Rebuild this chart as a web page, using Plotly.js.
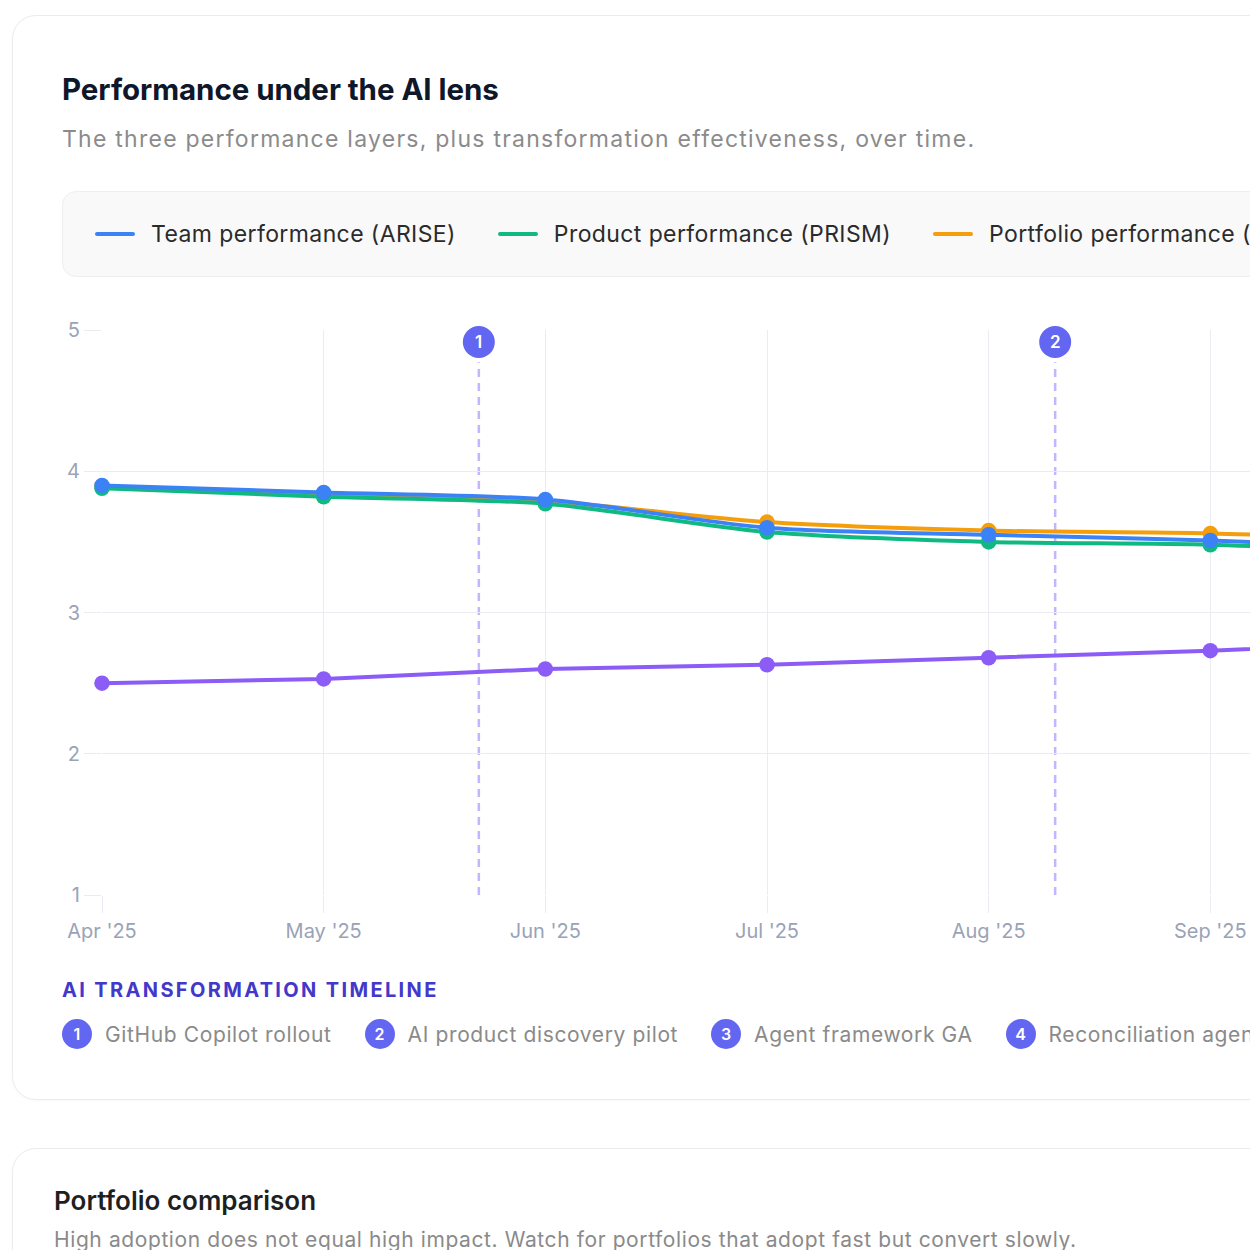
<!DOCTYPE html>
<html>
<head>
<meta charset="utf-8">
<script src="https://cdn.plot.ly/plotly-3.0.1.min.js"></script>
<style>
  html, body { margin:0; padding:0; background:#ffffff; overflow:hidden; width:1250px; height:1250px; }
  body { font-family: Inter, "Noto Sans", sans-serif; position:relative; }
  .card { position:absolute; left:12px; width:1520px; border:1px solid #ececef; border-radius:24px; background:#fff; box-shadow:0 1px 3px rgba(0,0,0,0.03); }
  .abs { position:absolute; white-space:nowrap; }
  #title { left:62px; top:72px; font-size:29.5px; font-weight:700; color:#0f172a; letter-spacing:-0.05px; line-height:34px; }
  #subtitle { left:62px; top:125px; font-size:23px; color:#8b8b8b; letter-spacing:1.25px; line-height:28px; }
  #legend { left:62px; top:191px; width:1460px; height:86px; background:#f9f9fa; border:1px solid #efeff1; border-radius:14px; display:flex; align-items:center; padding-left:32px; box-sizing:border-box; }
  .li { display:flex; align-items:center; margin-right:42px; font-size:23px; color:#2b2b2b; letter-spacing:0.4px; }
  .sw { width:40px; height:4px; border-radius:2px; margin-right:16px; }
  #plot { left:0px; top:290px; width:1480px; height:680px; }
  #tlTitle { left:62px; top:978px; font-size:20px; font-weight:700; color:#4338ca; letter-spacing:2.35px; line-height:24px; }
  #tl { left:62px; top:1019px; display:flex; align-items:center; }
  .ti { display:flex; align-items:center; margin-right:33px; }
  .badge { width:30px; height:30px; border-radius:15px; background:#6366f1; color:#fff; font-size:16px; font-weight:600; display:flex; align-items:center; justify-content:center; }
  .tt { margin-left:13px; font-size:21px; color:#8a8a8a; letter-spacing:0.62px; }
  #t2 { left:54px; top:1186px; font-size:26px; font-weight:600; color:#1f1f1f; line-height:30px; }
  #s2 { left:54px; top:1226px; font-size:21px; color:#8a8a8a; letter-spacing:0.6px; line-height:28px; }
</style>
</head>
<body>
<div class="card" style="top:15px;height:1083px;"></div>
<div class="card" style="top:1148px;height:400px;"></div>
<div id="title" class="abs">Performance under the AI lens</div>
<div id="subtitle" class="abs">The three performance layers, plus transformation effectiveness, over time.</div>
<div id="legend" class="abs"></div>
<div id="plot" class="abs"></div>
<div id="tlTitle" class="abs">AI TRANSFORMATION TIMELINE</div>
<div id="tl" class="abs"></div>
<div id="t2" class="abs">Portfolio comparison</div>
<div id="s2" class="abs">High adoption does not equal high impact. Watch for portfolios that adopt fast but convert slowly.</div>
<script>
// ---- data ----
const months = ["Apr '25", "May '25", "Jun '25", "Jul '25", "Aug '25", "Sep '25", "Oct '25"];
const teamPerformance      = [3.90, 3.85, 3.80, 3.60, 3.55, 3.51, 3.45];
const productPerformance   = [3.88, 3.82, 3.77, 3.57, 3.50, 3.48, 3.41];
const portfolioPerformance = [3.89, 3.84, 3.79, 3.64, 3.58, 3.56, 3.50];
const transformationEff    = [2.50, 2.53, 2.60, 2.63, 2.68, 2.73, 2.79];
const seriesNames  = ["Team performance (ARISE)", "Product performance (PRISM)", "Portfolio performance (Portfolio)", "Transformation effectiveness"];
const seriesColors = ["#3b82f6", "#10b981", "#f59e0b", "#8b5cf6"];
const eventLabels = ["GitHub Copilot rollout", "AI product discovery pilot", "Agent framework GA", "Reconciliation agent"];
const eventPos    = [1.70, 4.30, null, null]; // position in month units (only first two visible)

// ---- legend ----
const lg = document.getElementById('legend');
seriesNames.forEach((n, i) => {
  const d = document.createElement('div'); d.className = 'li';
  d.innerHTML = '<span class="sw" style="background:' + seriesColors[i] + '"></span><span>' + n + '</span>';
  lg.appendChild(d);
});
// ---- timeline ----
const tl = document.getElementById('tl');
eventLabels.forEach((n, i) => {
  const d = document.createElement('div'); d.className = 'ti';
  d.innerHTML = '<span class="badge">' + (i + 1) + '</span><span class="tt">' + n + '</span>';
  tl.appendChild(d);
});

// ---- chart ----
const xIdx = months.map((m, i) => i);
function tr(y, ci, shape) {
  return { x: xIdx, y: y, type: 'scatter', mode: 'lines+markers', cliponaxis: false,
    line: { color: seriesColors[ci], width: 4, shape: shape, smoothing: 0.8 },
    marker: { color: seriesColors[ci], size: 15.5 }, hoverinfo: 'skip', showlegend: false };
}
const data = [
  tr(transformationEff, 3, 'linear'),
  tr(portfolioPerformance, 2, 'spline'),
  tr(productPerformance, 1, 'spline'),
  tr(teamPerformance, 0, 'spline')
];
const gridC = '#eaecf1';
const shapes = [], annotations = [];
eventPos.forEach((p, i) => {
  if (p === null) return;
  shapes.push({ type: 'line', xref: 'x', yref: 'paper', x0: p, x1: p, y0: 0, y1: 0.943, layer: 'below',
    line: { color: '#c4b5fd', width: 2.5, dash: '8px,6px' } });
  shapes.push({ type: 'circle', xref: 'x', yref: 'paper', xsizemode: 'pixel', ysizemode: 'pixel',
    xanchor: p, yanchor: 1, x0: -16, x1: 16, y0: -28, y1: 4, fillcolor: '#6366f1', line: { width: 0 }, layer: 'above' });
  annotations.push({ x: p, y: 1, xref: 'x', yref: 'paper', xanchor: 'center', yanchor: 'middle', yshift: -12,
    showarrow: false, text: String(i + 1),
    font: { color: '#ffffff', size: 17, family: 'Inter', weight: 600 } });
});
const layout = {
  width: 1480, height: 680,
  margin: { l: 102, r: 48, t: 40, b: 75 },
  paper_bgcolor: 'rgba(0,0,0,0)', plot_bgcolor: 'rgba(0,0,0,0)',
  font: { family: 'Inter, sans-serif', color: '#9aa3b6', size: 20 },
  xaxis: { range: [0, 6], tickvals: xIdx, ticktext: months, showgrid: true, gridcolor: gridC, gridwidth: 1,
    zeroline: false, showline: false, ticks: 'outside', ticklen: 17, tickcolor: gridC, tickwidth: 1,
    tickfont: { size: 20, color: '#9aa3b6' }, ticklabelstandoff: 1 },
  yaxis: { range: [1, 5], tickvals: [1, 2, 3, 4, 5], showgrid: true, gridcolor: gridC, gridwidth: 1,
    zeroline: false, showline: false, ticks: 'outside', ticklen: 17, tickcolor: gridC, tickwidth: 1,
    tickfont: { size: 20, color: '#9aa3b6' } },
  shapes: shapes, annotations: annotations, showlegend: false
};
Plotly.newPlot('plot', data, layout, { displayModeBar: false, staticPlot: true });
</script>
</body>
</html>
